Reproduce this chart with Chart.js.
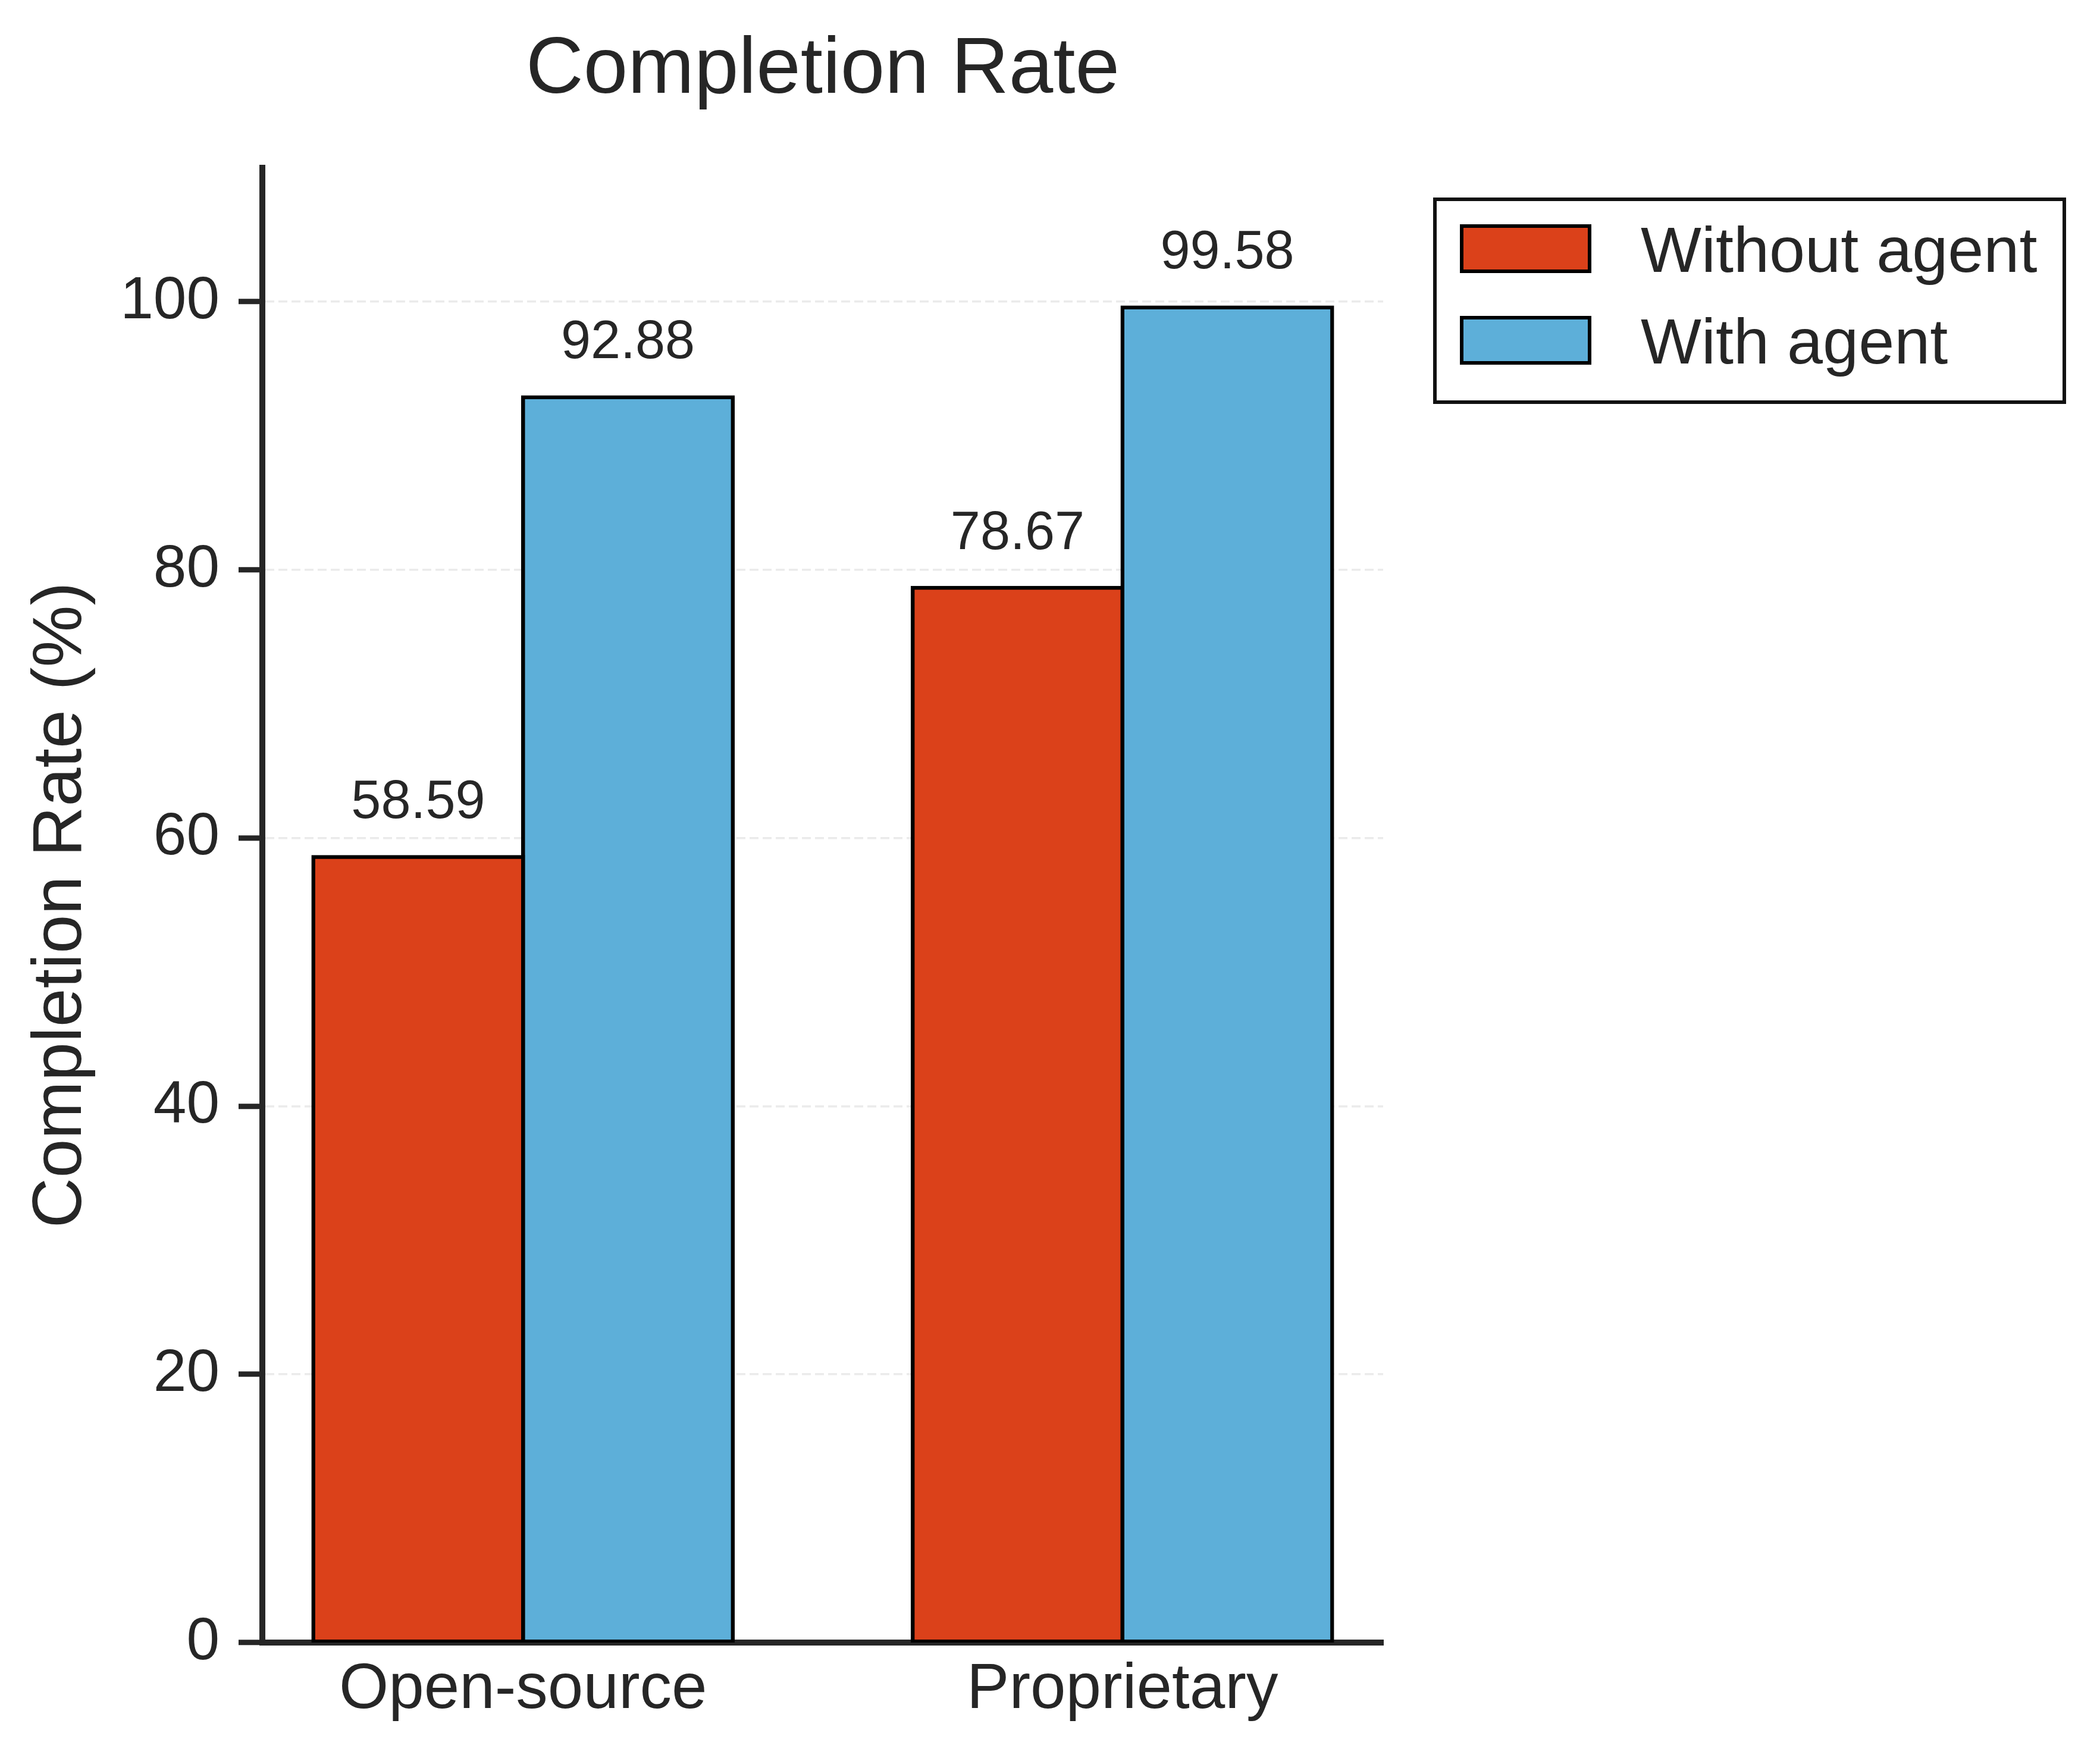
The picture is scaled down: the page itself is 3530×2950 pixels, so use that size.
<!DOCTYPE html>
<html>
<head>
<meta charset="utf-8">
<script src="https://cdn.jsdelivr.net/npm/chart.js@4.4.1/dist/chart.umd.min.js"></script>
<style>
  html, body { margin: 0; padding: 0; background: #ffffff; }
  #wrap { width: 3530px; height: 2950px; position: relative; }
</style>
</head>
<body>
<div id="wrap"><canvas id="chart"></canvas></div>
<script>
// Chart data
const categories = ['Open-source', 'Proprietary'];
const seriesNames = ['Without agent', 'With agent'];
const withoutAgent = [58.59, 78.67];
const withAgent = [92.88, 99.58];
const yTicks = [0, 20, 40, 60, 80, 100];

const TEXT = '#262626';
const FONT = "'Liberation Sans', Arial, Helvetica, sans-serif";
const RED = '#DB411A';
const BLUE = '#5DAFD9';

Chart.defaults.font.family = FONT;
Chart.defaults.color = TEXT;

// value labels above each bar (value + 2, bottom aligned)
const valueLabels = {
  id: 'valueLabels',
  afterDatasetsDraw(chart) {
    const ctx = chart.ctx;
    const y = chart.scales.y;
    ctx.save();
    ctx.font = `90px ${FONT}`;
    ctx.fillStyle = TEXT;
    ctx.textAlign = 'center';
    ctx.textBaseline = 'bottom';
    chart.data.datasets.forEach((ds, i) => {
      chart.getDatasetMeta(i).data.forEach((bar, j) => {
        const v = ds.data[j].y;
        ctx.fillText(v.toFixed(2), bar.x, y.getPixelForValue(v + 2));
      });
    });
    ctx.restore();
  }
};

// framed legend in the upper right, outside the axes
const boxLegend = {
  id: 'boxLegend',
  afterDraw(chart) {
    const ctx = chart.ctx;
    ctx.save();
    ctx.lineWidth = 6;
    ctx.strokeStyle = '#111111';
    ctx.strokeRect(2412, 335, 1058, 341);
    chart.data.datasets.forEach((ds, i) => {
      const top = 380 + i * 154;
      ctx.fillStyle = ds.backgroundColor;
      ctx.fillRect(2457, top, 215, 76);
      ctx.strokeStyle = '#000000';
      ctx.strokeRect(2457, top, 215, 76);
      ctx.fillStyle = TEXT;
      ctx.font = `108px ${FONT}`;
      ctx.textAlign = 'left';
      ctx.textBaseline = 'alphabetic';
      ctx.fillText(ds.label, 2758, 457 + i * 154);
    });
    ctx.restore();
  }
};

function makeDataset(label, values, color) {
  return {
    label: label,
    data: values.map((v, i) => ({ x: i, y: v })),
    backgroundColor: color,
    borderColor: '#000000',
    borderWidth: 6.5,
    inflateAmount: 3.25,
    borderSkipped: false,
    categoryPercentage: 0.7,
    barPercentage: 1.0
  };
}

new Chart(document.getElementById('chart'), {
  type: 'bar',
  data: {
    datasets: [
      makeDataset(seriesNames[0], withoutAgent, RED),
      makeDataset(seriesNames[1], withAgent, BLUE)
    ]
  },
  options: {
    responsive: true,
    maintainAspectRatio: false,
    devicePixelRatio: 1,
    animation: false,
    layout: { padding: { left: 0, right: 1205, top: 0, bottom: 0 } },
    plugins: {
      legend: { display: false },
      tooltip: { enabled: false },
      title: {
        display: true,
        text: 'Completion Rate',
        fullSize: false,
        color: TEXT,
        font: { size: 134, weight: 'normal' },
        padding: { top: 39, bottom: 82 }
      }
    },
    scales: {
      x: {
        type: 'linear',
        min: -0.435,
        max: 1.435,
        offset: false,
        z: 1,
        afterBuildTicks: (scale) => {
          scale.ticks = categories.map((c, i) => ({ value: i }));
        },
        afterFit: (scale) => { scale.height = 189; },
        grid: { display: false },
        border: { display: true, color: TEXT, width: 10 },
        ticks: {
          autoSkip: false,
          maxRotation: 0,
          padding: 8,
          color: TEXT,
          font: { size: 107 },
          callback: (v) => categories[Math.round(v)]
        }
      },
      y: {
        min: 0,
        max: 110,
        afterBuildTicks: (scale) => {
          scale.ticks = yTicks.map(v => ({ value: v }));
        },
        afterFit: (scale) => { scale.width = 441; },
        grid: {
          color: '#ebebeb',
          lineWidth: 3.5,
          drawTicks: true,
          tickLength: 40,
          tickColor: TEXT,
          tickWidth: 9,
          tickBorderDash: []
        },
        border: { display: true, color: TEXT, width: 10, dash: [15, 7] },
        ticks: {
          padding: 32,
          color: TEXT,
          font: { size: 100 }
        },
        title: {
          display: true,
          text: 'Completion Rate (%)',
          color: TEXT,
          font: { size: 117 },
          padding: { top: 34, bottom: 0 }
        }
      }
    }
  },
  plugins: [valueLabels, boxLegend]
});
</script>
</body>
</html>
